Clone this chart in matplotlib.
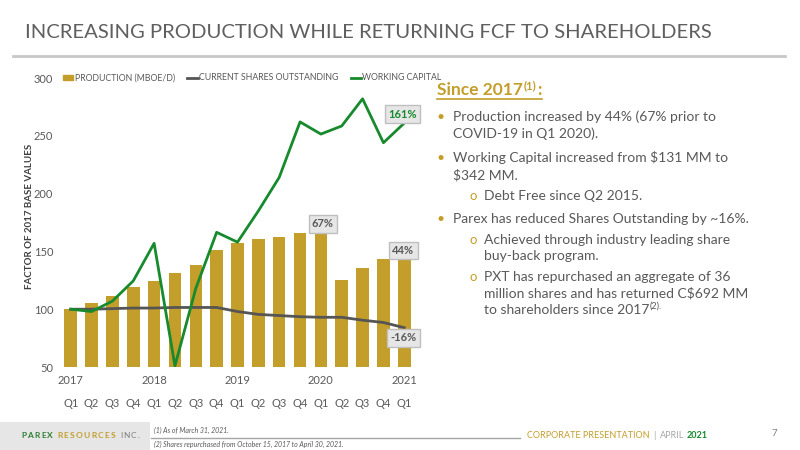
import matplotlib
matplotlib.use("Agg")
import matplotlib.pyplot as plt
from matplotlib.patches import Patch, Rectangle
from matplotlib.lines import Line2D

plt.rcParams['font.family'] = ['Lato', 'DejaVu Sans']

quarters = ['Q1', 'Q2', 'Q3', 'Q4', 'Q1', 'Q2', 'Q3', 'Q4', 'Q1', 'Q2', 'Q3', 'Q4',
            'Q1', 'Q2', 'Q3', 'Q4', 'Q1']
years = ['2017', '2018', '2019', '2020', '2021']
year_pos = [0, 4, 8, 12, 16]

production = [100, 105.5, 111, 119.5, 124.5, 131, 138, 151, 157, 160.5, 162.5, 166,
              167, 125.5, 136, 143, 144]
shares = [100, 100, 100.5, 101, 101, 101.5, 101.5, 101.5, 98, 95.5, 94.5, 93.5,
          93, 93, 90.5, 88.5, 84]
working_capital = [100, 98, 107, 124.5, 157, 51, 118, 166.5, 158, 185, 214, 262,
                   251.5, 258.5, 282, 244, 261]

GOLD = '#C39E2A'
GREEN = '#178A2E'
GREY = '#595959'
SHARE_GREY = '#555555'

W, H = 800, 450
fig = plt.figure(figsize=(8, 4.5), dpi=100)
renderer = fig.canvas.get_renderer()


def fx(x):
    return x / W


def fy(y):
    return 1 - y / H


def fit(t, width):
    # scale font size so the text is about `width` pixels wide
    w = t.get_window_extent(renderer).width
    t.set_fontsize(t.get_fontsize() * width / w)
    return t.get_fontsize()


ax = fig.add_axes([fx(60.3), fy(367), fx(414.7) - fx(60.3), fy(78) - fy(367)])
x = list(range(len(quarters)))
ax.bar(x, production, width=0.6, color=GOLD, zorder=1)
ax.plot(x, shares, color=SHARE_GREY, lw=2, zorder=2)
ax.plot(x, working_capital, color=GREEN, lw=2, zorder=3)
ax.set_xlim(-0.5, len(quarters) - 0.5)
ax.set_ylim(50, 300)
ax.set_yticks([50, 100, 150, 200, 250, 300])
for s in ax.spines.values():
    s.set_visible(False)
ax.tick_params(axis='y', length=0, pad=5, labelsize=8, labelcolor=GREY)
ax.set_xticks(x, quarters)
ax.tick_params(axis='x', length=0, pad=22, labelsize=8, labelcolor=GREY)
for p, yr in zip(year_pos, years):
    ax.annotate(yr, xy=(p, 0), xycoords=('data', 'axes fraction'), xytext=(0, -14),
                textcoords='offset pixels', ha='center', va='center',
                fontsize=8, color=GREY)

ax.set_ylabel('FACTOR OF 2017 BASE VALUES', fontsize=7, fontweight='bold',
              color='#404040')
ax.yaxis.set_label_coords(-0.075, 0.52)

handles = [Patch(color=GOLD), Line2D([], [], color=SHARE_GREY, lw=2),
           Line2D([], [], color=GREEN, lw=2)]
labels = ['PRODUCTION (MBOE/D)', 'CURRENT SHARES OUTSTANDING', 'WORKING CAPITAL']
ax.legend(handles, labels, loc='center left', bbox_to_anchor=(-0.005, 1.0), ncol=3,
          frameon=False, fontsize=6.3, labelcolor=GREY, handlelength=1.2,
          handleheight=0.6, handletextpad=0.15, columnspacing=1.4, borderpad=0)

box = dict(boxstyle='square,pad=0.3', fc='#E6E6E6', ec='#BFBFBF', lw=1)
ax.annotate('161%', xy=(16, working_capital[16]), xytext=(-2, 9),
            textcoords='offset pixels', ha='center', va='center', fontsize=8,
            fontweight='bold', color=GREEN, bbox=box)
ax.annotate('67%', xy=(12, production[12]), xytext=(2, 8),
            textcoords='offset pixels', ha='center', va='center', fontsize=8,
            fontweight='bold', color=GREY, bbox=box)
ax.annotate('44%', xy=(16, production[16]), xytext=(-1, 8),
            textcoords='offset pixels', ha='center', va='center', fontsize=8,
            fontweight='bold', color=GREY, bbox=box)
ax.annotate('-16%', xy=(16, shares[16]), xytext=(-1, -10),
            textcoords='offset pixels', ha='center', va='center', fontsize=8,
            fontweight='bold', color=GREY, bbox=box)

# title and rule
title = fig.text(fx(25), fy(33), 'INCREASING PRODUCTION WHILE RETURNING FCF TO SHAREHOLDERS',
                 fontsize=15, color='#5F5F5F', va='center', ha='left')
fit(title, 687)
fig.add_artist(Line2D([fx(13), fx(785)], [fy(56), fy(56)], color='#C8C8C8', lw=2))


def seq(x0, y0, pieces):
    # draw text pieces one after another, returns end x in pixels
    xc = x0
    for txt, kw, dy, gap in pieces:
        t = fig.text(fx(xc), fy(y0 + dy), txt, ha='left', va='center', **kw)
        bb = t.get_window_extent(renderer)
        xc += bb.width + gap
    return xc


# right-hand text
end = seq(437, 90, [('Since 2017', dict(fontsize=12.5, fontweight='bold', color=GOLD), 0, 1),
                    ('(1)', dict(fontsize=8, fontweight='bold', color=GOLD), -4, 1),
                    (':', dict(fontsize=12.5, fontweight='bold', color=GOLD), 0, 0)])
fig.add_artist(Line2D([fx(437), fx(end)], [fy(99), fy(99)], color=GOLD, lw=1.2))

probe = fig.text(0, 0, 'Production increased by 44% (67% prior to', fontsize=11)
body_size = fit(probe, 262)
probe.remove()
body = dict(fontsize=body_size, color=GREY)
bullet_lines = [
    (441, 453, 117, '•', 'Production increased by 44% (67% prior to'),
    (None, 453, 134, None, 'COVID-19 in Q1 2020).'),
    (441, 453, 158, '•', 'Working Capital increased from $131 MM to'),
    (None, 453, 175, None, '$342 MM.'),
    (473, 484, 196, 'o', 'Debt Free since Q2 2015.'),
    (441, 453, 219, '•', 'Parex has reduced Shares Outstanding by ~16%.'),
    (473, 484, 240, 'o', 'Achieved through industry leading share'),
    (None, 484, 256, None, 'buy-back program.'),
    (473, 484, 277, 'o', 'PXT has repurchased an aggregate of 36'),
    (None, 484, 293, None, 'million shares and has returned C$692 MM'),
]
for bx, tx, ty, mark, txt in bullet_lines:
    if mark == '•':
        fig.text(fx(bx), fy(ty), mark, fontsize=10, color=GOLD, ha='center', va='center')
    elif mark == 'o':
        fig.text(fx(bx), fy(ty), mark, fontsize=9.5, color=GOLD, ha='center', va='center')
    fig.text(fx(tx), fy(ty), txt, ha='left', va='center', **body)
seq(484, 310, [('to shareholders since 2017', body, 0, 0.5),
               ('(2).', dict(fontsize=6.5, color=GREY), -4, 0)])

# footer
fig.add_artist(Rectangle((0, fy(450)), fx(150), fy(422) - fy(450), transform=fig.transFigure,
                         color='#E6E6E6', lw=0))
parts = [('PAREX', '#2E7D32'), ('RESOURCES', '#C39E2A'), ('INC.', '#7F7F7F')]
xc = 21
for word, col in parts:
    for ch in word:
        t = fig.text(fx(xc), fy(436), ch, fontsize=6,
                     fontweight='bold' if col != '#7F7F7F' else 'normal',
                     color=col, ha='left', va='center')
        xc += t.get_window_extent(renderer).width + 1.2
    xc += 3.5

fig.text(fx(154), fy(430.5), '(1) As of March 31, 2021.', fontsize=5, style='italic',
         color=GREY, va='center')
fig.text(fx(154), fy(444), '(2) Shares repurchased from October 15, 2017 to April 30, 2021.',
         fontsize=5, style='italic', color=GREY, va='center')
fig.add_artist(Line2D([fx(151), fx(520)], [fy(437.5), fy(437.5)], color='#A6A6A6', lw=1))
seq(527, 436, [('CORPORATE PRESENTATION', dict(fontsize=6.5, color=GOLD), 0, 4),
               ('|', dict(fontsize=6.5, color='#A6A6A6'), 0, 4),
               ('APRIL', dict(fontsize=6.5, color='#A6A6A6'), 0, 2),
               ('2021', dict(fontsize=6.5, color=GREEN, fontweight='bold'), 0, 0)])
fig.text(fx(774), fy(434), '7', fontsize=7, color='#7F7F7F', ha='center', va='center')

fig.savefig('out.png', dpi=100)
